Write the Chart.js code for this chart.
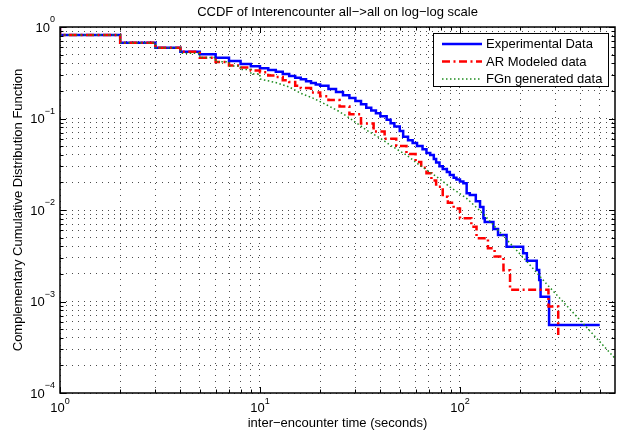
<!DOCTYPE html>
<html>
<head>
<meta charset="utf-8">
<script src="https://cdn.jsdelivr.net/npm/chart.js@4/dist/chart.umd.min.js"></script>
<style>
  body { margin: 0; background: #fff; }
</style>
</head>
<body>
<canvas id="ccdfChart" width="623" height="433"></canvas>
<script>
// experimental data (stairs: value after the drop at x)
const expX = [1, 1, 2, 3, 4, 5, 6, 7, 8, 9, 10, 11, 12, 13, 14, 15, 16, 17, 18, 19,
  20, 22, 24, 26, 28, 30, 32, 34, 36, 38, 40, 43, 45, 47, 50, 52, 55, 58, 61, 65,
  68, 71, 74, 76, 79, 82, 86, 89, 93, 96, 100, 104, 108, 112, 120, 126, 131, 133, 147, 155,
  171, 207, 216, 242, 249, 253, 279, 500];
const expY = [1, 0.818, 0.674, 0.594, 0.537, 0.503, 0.461, 0.425, 0.395, 0.372, 0.355, 0.339, 0.325, 0.306, 0.291, 0.279, 0.268, 0.255, 0.245, 0.236,
  0.228, 0.21, 0.195, 0.18, 0.167, 0.155, 0.143, 0.131, 0.122, 0.114, 0.106, 0.097, 0.089, 0.082, 0.073, 0.063, 0.058, 0.054, 0.05, 0.046,
  0.042, 0.04, 0.036, 0.033, 0.03, 0.028, 0.026, 0.0241, 0.0225, 0.0215, 0.0205, 0.0196, 0.0152, 0.0146, 0.0125, 0.0108, 0.0081, 0.0074, 0.0062, 0.00533,
  0.00397, 0.00336, 0.00279, 0.00221, 0.00172, 0.00113, 0.000553, 0.000553];

// AR modeled data
const arX = [1, 1, 2, 3, 4, 5, 6, 7, 8, 9, 10, 11, 12, 13, 14, 15, 16, 18, 20, 22,
  25, 28, 32, 37, 42, 48, 54, 60, 64, 68, 72, 76, 82, 87, 93, 100, 114, 121, 138, 149,
  165, 178, 277, 310];
const arY = [1, 0.818, 0.674, 0.594, 0.537, 0.461, 0.415, 0.38, 0.36, 0.335, 0.32, 0.295, 0.285, 0.262, 0.25, 0.228, 0.215, 0.192, 0.175, 0.159,
  0.135, 0.111, 0.088, 0.072, 0.06, 0.05, 0.041, 0.0334, 0.029, 0.0252, 0.021, 0.018, 0.014, 0.012, 0.0104, 0.0081, 0.00657, 0.00491, 0.00381, 0.0031,
  0.0022, 0.00134, 0.00088, 0.00043];

// FGn generated data (steps written out for small x)
const fgnX = [1, 1, 2, 2, 3, 3, 4, 4, 5, 5, 6, 6, 7, 7, 8, 8, 9, 9, 10, 10,
  12, 14, 16, 18.5, 21.6, 25, 29, 34, 40, 46, 54, 62, 76.5, 89, 108, 131, 158, 215, 270, 412, 596];
const fgnY = [1, 0.818, 0.818, 0.674, 0.674, 0.594, 0.594, 0.516, 0.516, 0.464, 0.464, 0.418, 0.418, 0.375, 0.375, 0.343, 0.343, 0.306, 0.306, 0.27,
  0.247, 0.221, 0.1886, 0.1662, 0.1405, 0.1187, 0.0963, 0.0749, 0.0608, 0.0492, 0.0399, 0.0316, 0.0231, 0.0179, 0.0134, 0.00904, 0.00575, 0.00277, 0.00157, 0.000578, 0.000239];

const seriesLabels = ["Experimental Data", "AR Modeled data", "FGn generated data"];
const xTickPowers = [0, 1, 2];
const yTickPowers = [-4, -3, -2, -1, 0];

const FONT = '"Liberation Sans", Arial, Helvetica, sans-serif';
Chart.defaults.font.family = FONT;
Chart.defaults.color = "#000";

const toPoints = (xs, ys) => xs.map((x, i) => ({ x: x, y: ys[i] }));

// 1..9 x 10^k ticks so the dotted grid has every minor line
function logTicks(scale) {
  const ticks = [];
  const lo = Math.floor(Math.log10(scale.min));
  const hi = Math.ceil(Math.log10(scale.max));
  for (let e = lo; e <= hi; e++) {
    for (let m = 1; m < 10; m++) {
      const v = m * Math.pow(10, e);
      if (v >= scale.min * 0.9999 && v <= scale.max * 1.0001) {
        ticks.push({ value: v, major: m === 1 });
      }
    }
  }
  scale.ticks = ticks;
}

const matlabAxes = {
  id: "matlabAxes",
  beforeDraw(chart) {
    const ctx = chart.ctx;
    ctx.save();
    ctx.fillStyle = "#fff";
    ctx.fillRect(0, 0, chart.width, chart.height);
    ctx.restore();
  },
  afterDatasetsDraw(chart) {
    const { ctx, chartArea: a, scales } = chart;
    const xs = scales.x, ys = scales.y;
    ctx.save();

    // inner tick marks on all four sides
    ctx.strokeStyle = "#000";
    ctx.lineWidth = 1;
    ctx.beginPath();
    xs.ticks.forEach((t) => {
      const px = Math.round(xs.getPixelForValue(t.value)) + 0.5;
      const len = t.major ? 6 : 3.5;
      ctx.moveTo(px, a.bottom); ctx.lineTo(px, a.bottom - len);
      ctx.moveTo(px, a.top); ctx.lineTo(px, a.top + len);
    });
    ys.ticks.forEach((t) => {
      const py = Math.round(ys.getPixelForValue(t.value)) + 0.5;
      const len = t.major ? 6 : 3.5;
      ctx.moveTo(a.left, py); ctx.lineTo(a.left + len, py);
      ctx.moveTo(a.right, py); ctx.lineTo(a.right - len, py);
    });
    ctx.stroke();

    // box
    ctx.lineWidth = 1.5;
    ctx.strokeRect(a.left, a.top, a.right - a.left, a.bottom - a.top);

    // tick labels 10^k
    const baseFont = "13px " + FONT;
    const supFont = "9px " + FONT;
    ctx.fillStyle = "#000";
    ctx.textBaseline = "middle";
    xTickPowers.forEach((p) => {
      const px = xs.getPixelForValue(Math.pow(10, p));
      const sup = String(p).replace("-", "\u2212");
      ctx.font = baseFont;
      const wb = ctx.measureText("10").width;
      ctx.font = supFont;
      const we = ctx.measureText(sup).width;
      const start = px - (wb + we) / 2;
      ctx.textAlign = "left";
      ctx.font = baseFont;
      ctx.fillText("10", start, a.bottom + 15.5);
      ctx.font = supFont;
      ctx.fillText(sup, start + wb, a.bottom + 8.5);
    });
    yTickPowers.forEach((p) => {
      const py = ys.getPixelForValue(Math.pow(10, p));
      const sup = String(p).replace("-", "\u2212");
      const right = a.left - 5;
      ctx.font = supFont;
      const we = ctx.measureText(sup).width;
      ctx.textAlign = "right";
      ctx.fillText(sup, right, py - 7);
      ctx.font = baseFont;
      ctx.fillText("10", right - we, py + 1);
    });

    // legend box in the upper right
    const lg = { left: 433, top: 33, right: 609, bottom: 87 };
    ctx.fillStyle = "#fff";
    ctx.fillRect(lg.left, lg.top, lg.right - lg.left, lg.bottom - lg.top);
    ctx.lineWidth = 1;
    ctx.strokeStyle = "#000";
    ctx.strokeRect(lg.left + 0.5, lg.top + 0.5, lg.right - lg.left - 1, lg.bottom - lg.top - 1);
    const rows = [44, 61.5, 79];
    chart.data.datasets.forEach((ds, i) => {
      const y = rows[i];
      ctx.beginPath();
      ctx.strokeStyle = ds.borderColor;
      ctx.lineWidth = ds.borderWidth;
      ctx.setLineDash(ds.borderDash || []);
      ctx.moveTo(442, y);
      ctx.lineTo(482, y);
      ctx.stroke();
      ctx.setLineDash([]);
      ctx.fillStyle = "#000";
      ctx.font = baseFont;
      ctx.textAlign = "left";
      ctx.textBaseline = "middle";
      ctx.fillText(ds.label, 486, y + 0.5);
    });
    ctx.restore();
  },
};

const gridOpts = {
  display: true,
  color: "rgba(0,0,0,0.7)",
  lineWidth: 1,
  drawTicks: false,
};
const borderOpts = { display: false, dash: [1, 5] };

new Chart(document.getElementById("ccdfChart"), {
  type: "line",
  data: {
    datasets: [
      {
        label: seriesLabels[0],
        data: toPoints(expX, expY),
        borderColor: "#0000ff",
        borderWidth: 2.5,
        stepped: true,
        pointRadius: 0,
        fill: false,
        order: 3,
      },
      {
        label: seriesLabels[1],
        data: toPoints(arX, arY),
        borderColor: "#ff0000",
        borderWidth: 2.5,
        borderDash: [8, 3.5, 2, 3.5],
        stepped: true,
        pointRadius: 0,
        fill: false,
        order: 2,
      },
      {
        label: seriesLabels[2],
        data: toPoints(fgnX, fgnY),
        borderColor: "rgb(30,140,30)",
        borderWidth: 1.5,
        borderDash: [1.5, 2.5],
        pointRadius: 0,
        fill: false,
        order: 1,
      },
    ],
  },
  options: {
    responsive: false,
    devicePixelRatio: 1,
    animation: false,
    events: [],
    layout: { padding: { top: 0, right: 8, bottom: 0, left: 0 } },
    plugins: {
      legend: { display: false },
      tooltip: { enabled: false },
      title: {
        display: true,
        fullSize: false,
        text: "CCDF of Interencounter all\u2212>all on log\u2212log scale",
        font: { size: 13, weight: "normal" },
        color: "#000",
        padding: { top: 5, bottom: 6.4 },
      },
    },
    scales: {
      x: {
        type: "logarithmic",
        position: "bottom",
        min: 1,
        max: 596,
        afterBuildTicks: logTicks,
        afterFit: (s) => { s.height = 40; },
        ticks: { display: false },
        grid: gridOpts,
        border: borderOpts,
        title: {
          display: true,
          text: "inter\u2212encounter time (seconds)",
          font: { size: 13 },
          color: "#000",
          padding: { top: 0, bottom: 1.5 },
        },
      },
      y: {
        type: "logarithmic",
        position: "left",
        min: 0.0001,
        max: 1,
        afterBuildTicks: logTicks,
        afterFit: (s) => { s.width = 60; },
        ticks: { display: false },
        grid: gridOpts,
        border: borderOpts,
        title: {
          display: true,
          text: "Complementary Cumulative Distribution Function",
          font: { size: 13 },
          color: "#000",
          padding: { top: 11, bottom: 0 },
        },
      },
    },
  },
  plugins: [matlabAxes],
});
</script>
</body>
</html>
